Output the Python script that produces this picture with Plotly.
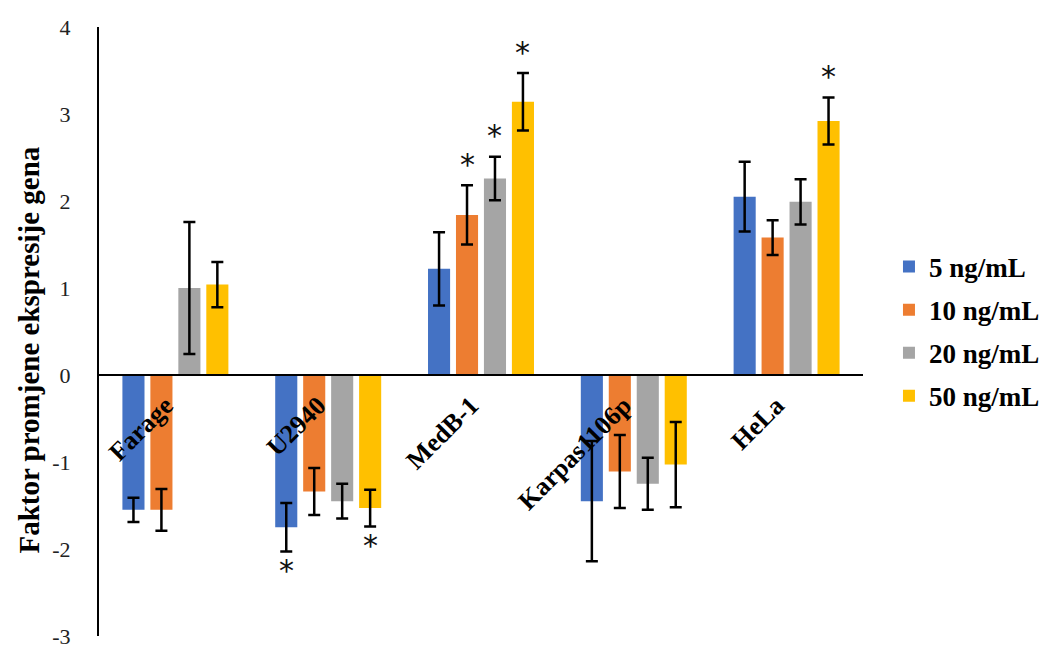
import plotly.graph_objects as go

categories = ["Farage", "U2940", "MedB-1", "Karpas1106p", "HeLa"]
series_names = ["5 ng/mL", "10 ng/mL", "20 ng/mL", "50 ng/mL"]
colors = ["#4472C4", "#ED7D31", "#A5A5A5", "#FFC000"]

v5 = [-1.55, -1.75, 1.22, -1.45, 2.05]
v10 = [-1.55, -1.34, 1.84, -1.11, 1.58]
v20 = [1.00, -1.45, 2.26, -1.25, 1.99]
v50 = [1.04, -1.53, 3.14, -1.03, 2.92]

e5 = [0.14, 0.28, 0.42, 0.69, 0.40]
e10 = [0.24, 0.27, 0.34, 0.42, 0.20]
e20 = [0.76, 0.20, 0.25, 0.30, 0.26]
e50 = [0.26, 0.21, 0.33, 0.49, 0.27]

# significance flags (1 = asterisk)
s5 = [0, 1, 0, 0, 0]
s10 = [0, 0, 1, 0, 0]
s20 = [0, 0, 1, 0, 0]
s50 = [0, 1, 1, 0, 1]

values = [v5, v10, v20, v50]
errors = [e5, e10, e20, e50]
sigs = [s5, s10, s20, s50]

yticks = [-3, -2, -1, 0, 1, 2, 3, 4]
ytick_text = ["-3", "-2", "-1", "0", "1", "2", "3", "4"]

serif = "Liberation Serif, Times New Roman, serif"
BARGAP = 0.268
GROUPGAP = 0.21

fig = go.Figure()
for name, col, v, e in zip(series_names, colors, values, errors):
    fig.add_trace(go.Bar(
        x=categories, y=v, name=name, marker_color=col, marker_line_width=0,
        error_y=dict(type="data", array=e, visible=True, color="black",
                     thickness=2.5, width=6),
        legendgroup=name,
    ))

# asterisks
slot = (1 - BARGAP) / 4
annotations = []
for i, (v, e, s) in enumerate(zip(values, errors, sigs)):
    for j in range(len(categories)):
        if s[j]:
            xpos = j + (i - 1.5) * slot
            if v[j] >= 0:
                y = v[j] + e[j]
                ys = 21
            else:
                y = v[j] - e[j]
                ys = -19
            annotations.append(dict(
                x=xpos, y=y, xref="x", yref="y", text="*", showarrow=False,
                yshift=ys, font=dict(family="DejaVu Sans, sans-serif", size=30, color="#111"),
            ))

annotations.append(dict(
    text="<b>Faktor promjene ekspresije gena</b>", xref="paper", yref="paper",
    x=-0.092, y=0.47, textangle=-90, showarrow=False, xanchor="center", yanchor="middle",
    font=dict(family=serif, size=29, color="black"),
))

fig.update_layout(
    width=1052, height=650,
    margin=dict(l=91, r=197, t=19, b=22),
    paper_bgcolor="white", plot_bgcolor="white",
    barmode="group", bargap=BARGAP, bargroupgap=GROUPGAP,
    showlegend=True,
    legend=dict(x=1.034, xanchor="left", y=0.5, yanchor="middle",
                font=dict(family=serif, size=27, color="black", weight="bold"),
                tracegroupgap=5, itemwidth=30),
    annotations=annotations,
    xaxis=dict(
        type="category", anchor="free", position=3/7, automargin=False,
        showline=True, linecolor="black", linewidth=2,
        ticks="", showgrid=False, zeroline=False,
        tickangle=-45,
        tickfont=dict(family=serif, size=26, color="black", weight="bold"),
        ticklabelshift=-10, ticklabelstandoff=4,
        layer="above traces",
    ),
    yaxis=dict(
        range=[-3, 4], tickvals=yticks, ticktext=ytick_text, automargin=False,
        showgrid=False, zeroline=False,
        showline=True, linecolor="black", linewidth=2, ticks="",
        tickfont=dict(family=serif, size=22, color="#222"),
        ticklabelstandoff=22,
    ),
)

fig.write_html("out.html")
